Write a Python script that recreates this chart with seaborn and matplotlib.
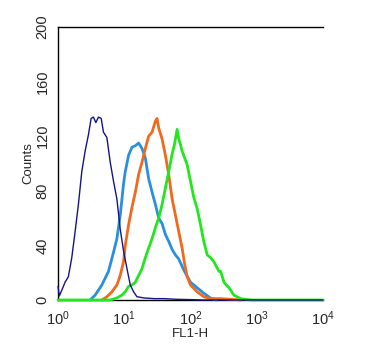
import numpy as np
import pandas as pd
import seaborn as sns
import matplotlib
matplotlib.use("Agg")
import matplotlib.pyplot as plt
from matplotlib.ticker import FixedLocator, LogLocator, NullFormatter, FixedFormatter

# ---- data (log10 of FL1-H, counts) ----
navy_log = [0.00, 0.02, 0.056, 0.106, 0.156, 0.208, 0.258, 0.308, 0.359, 0.409, 0.459, 0.50,
            0.535, 0.571, 0.611, 0.652, 0.686, 0.738, 0.788, 0.838, 0.889, 0.939, 0.989,
            1.041, 1.091, 1.141, 1.192, 1.30, 1.45, 1.60, 1.80, 2.00, 2.20, 4.0]
navy_cnt = [10, 3, 7, 13, 17, 31, 50, 70, 94, 109, 121, 133,
            134, 130, 134, 133, 123, 119, 101, 87, 74, 52, 36,
            23, 11, 6, 2.4, 1.5, 1, 1, 0.5, 0.3, 0, 0]

blue_log = [0.485, 0.561, 0.662, 0.762, 0.838, 0.889, 0.939, 0.989, 1.015, 1.065, 1.117,
            1.167, 1.217, 1.268, 1.318, 1.368, 1.42, 1.47, 1.52, 1.571, 1.621, 1.671,
            1.723, 1.773, 1.823, 1.898, 2.0, 2.1, 2.2, 2.3, 2.39]
blue_cnt = [0, 3.6, 11, 21, 35, 45, 62, 85, 94, 106, 112,
            113, 115, 111, 104, 89, 79, 70, 60, 56, 48, 43,
            37, 33, 30, 22, 13, 9, 5, 1.5, 0]

orange_log = [0.662, 0.738, 0.814, 0.889, 0.939, 0.989, 1.015, 1.065, 1.117, 1.167, 1.217,
              1.268, 1.318, 1.368, 1.42, 1.47, 1.495, 1.52, 1.571, 1.621, 1.671, 1.723,
              1.773, 1.823, 1.874, 1.909, 1.95, 2.0, 2.1, 2.2, 2.3, 2.45, 2.6, 2.76]
orange_cnt = [0, 2.4, 6, 11, 18, 28, 40, 55, 68, 79, 92,
              101, 111, 120, 123, 131, 133, 126, 118, 106, 92, 74,
              62, 50, 38, 27, 17, 11, 6, 2.4, 1, 1, 0.5, 0]

green_log = [0.0, 0.788, 0.889, 0.965, 1.015, 1.065, 1.117, 1.167, 1.217, 1.268, 1.318,
             1.368, 1.42, 1.47, 1.52, 1.571, 1.621, 1.671, 1.723, 1.758, 1.798, 1.823,
             1.848, 1.874, 1.898, 1.95, 2.0, 2.05, 2.1, 2.152, 2.2, 2.253, 2.303, 2.353,
             2.429, 2.455, 2.505, 2.58, 2.656, 2.758, 2.859, 2.94, 4.0]
green_cnt = [0, 0, 1.5, 3.6, 6, 10, 11, 13, 18, 23, 31,
             38, 45, 53, 60, 70, 82, 94, 107, 114, 125, 118,
             114, 109, 106, 99, 87, 75, 67, 55, 43, 33, 31, 28,
             21, 21, 13, 9, 3.6, 1, 0.3, 0, 0]

y_ticks = [0, 40, 80, 120, 160, 200]
x_ticks = [1, 10, 100, 1000, 10000]
x_labels = ["$10^0$", "$10^1$", "$10^2$", "$10^3$", "$10^4$"]

series = [
    ("blue", blue_log, blue_cnt, "#2b8fdc", 2.0),
    ("orange", orange_log, orange_cnt, "#f06a1e", 2.0),
    ("green", green_log, green_cnt, "#22e61e", 2.0),
    ("navy", navy_log, navy_cnt, "#141488", 1.0),
]

sns.set_style("white")
plt.rcParams['font.family'] = ['Liberation Sans', 'DejaVu Sans']
plt.rcParams['mathtext.fontset'] = 'custom'
plt.rcParams['mathtext.rm'] = 'Liberation Sans'
plt.rcParams['mathtext.it'] = 'Liberation Sans'

fig = plt.figure(figsize=(3.68, 3.55), dpi=100)
ax = fig.add_axes([58/368, 55/355, (323-58)/368, (300-27)/355])

for name, lx, cnt, col, lw in series:
    df = pd.DataFrame({"FL1": np.power(10.0, np.array(lx)), "Counts": cnt})
    sns.lineplot(data=df, x="FL1", y="Counts", ax=ax, color=col, linewidth=lw,
                 sort=False, estimator=None, clip_on=False, zorder=3)

ax.set_xscale("log")
ax.set_xlim(1, 10000)
ax.set_ylim(0, 200)

ax.xaxis.set_major_locator(FixedLocator(x_ticks))
ax.xaxis.set_major_formatter(FixedFormatter(x_labels))
ax.xaxis.set_minor_locator(LogLocator(base=10, subs=np.arange(2, 10)))
ax.xaxis.set_minor_formatter(NullFormatter())
ax.set_yticks(y_ticks)
ax.yaxis.set_minor_locator(FixedLocator(np.arange(0, 201, 10)))

ax.tick_params(axis="both", which="both", direction="out", color="black", width=0.8)
ax.tick_params(axis="x", which="major", length=5, labelsize=10.5, pad=2)
ax.tick_params(axis="x", which="minor", length=3.5)
ax.tick_params(axis="y", which="major", length=5, labelsize=10.5, pad=1)
ax.tick_params(axis="y", which="minor", length=3.5)
for lab in ax.get_yticklabels():
    lab.set_rotation(90)
    lab.set_va("center")

for s in ["left", "top", "bottom"]:
    ax.spines[s].set_visible(True)
    ax.spines[s].set_color("black")
    ax.spines[s].set_linewidth(1.0)
ax.spines["right"].set_visible(False)

ax.set_xlabel("FL1-H", fontsize=9.5, labelpad=0)
ax.set_ylabel("Counts", fontsize=9.5, labelpad=1)

fig.savefig("out.png", dpi=100)
